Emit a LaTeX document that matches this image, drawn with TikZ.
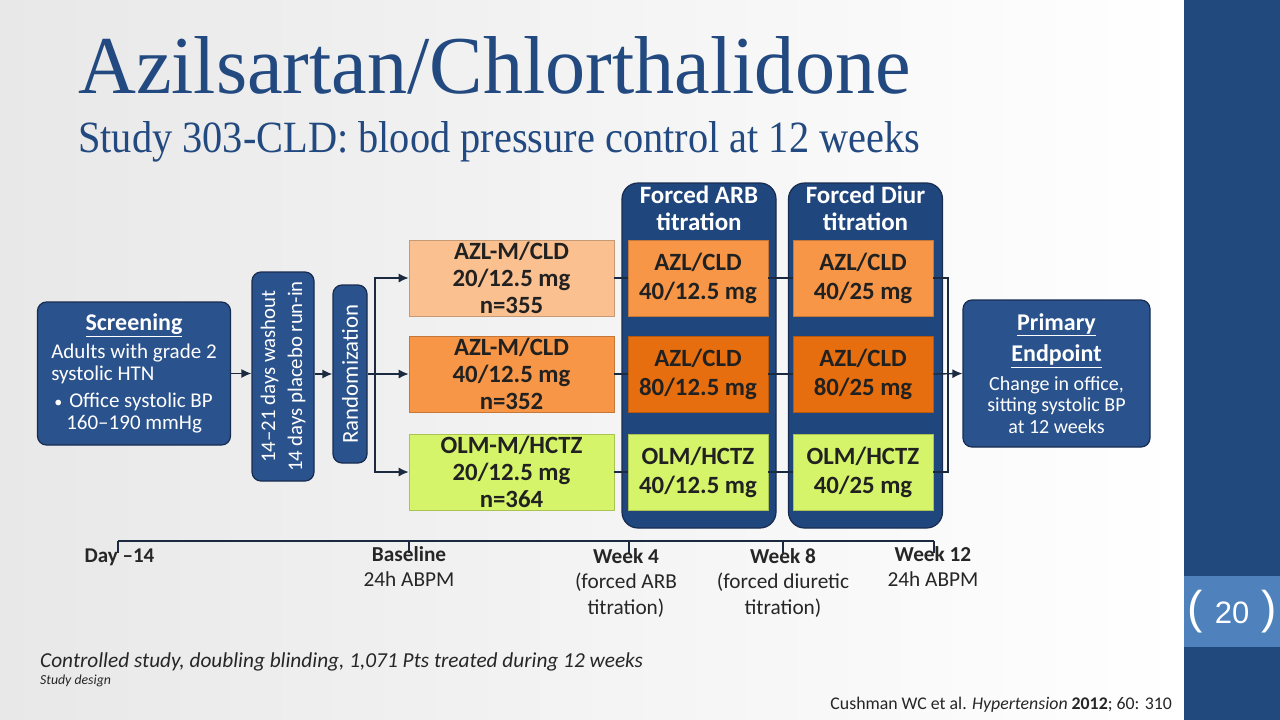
\documentclass[tikz,border=0pt]{standalone}
\usepackage{graphicx}
\usepackage{fontspec}
\setmainfont{Carlito}
\newfontfamily\titlefont{Liberation Serif}
\newfontfamily\numfont{Liberation Sans}
\usepackage{tikz}
\usetikzlibrary{positioning,shapes,arrows.meta}

\definecolor{titleblue}{RGB}{35,74,128}
\definecolor{boxblue}{RGB}{42,82,140}
\definecolor{panelblue}{RGB}{31,70,125}
\definecolor{edgeblue}{RGB}{24,44,80}
\definecolor{linenavy}{RGB}{27,42,65}
\definecolor{barblue}{RGB}{33,73,125}
\definecolor{pageblue}{RGB}{79,129,189}
\definecolor{lightorange}{RGB}{250,192,144}
\definecolor{midorange}{RGB}{247,150,70}
\definecolor{darkorange}{RGB}{230,110,14}
\definecolor{lightgreen}{RGB}{214,244,106}
\definecolor{armtext}{RGB}{33,33,33}

\begin{document}
\begin{tikzpicture}
            [x=1pt,y=-1pt,>={Latex[length=10pt,width=9pt]},
             bluebox/.style={draw=edgeblue, line width=1.2pt, fill=boxblue, rounded corners=9pt, text=white, inner sep=0pt},
             panel/.style={draw=edgeblue, line width=1.2pt, fill=panelblue, rounded corners=16pt, minimum width=154pt, minimum height=345pt, inner sep=0pt},
             armbox/.style={draw=#1!80!black, fill=#1, line width=0.6pt, minimum height=76pt, inner sep=0pt, align=center, text=armtext, font=\bfseries\fontsize{24.8}{27}\selectfont},
             dosebox/.style={armbox=#1, minimum width=140pt, font=\bfseries\fontsize{24.8}{29}\selectfont},
             link/.style={draw=linenavy, line width=1.4pt},
             tlabel/.style={anchor=north, inner sep=0pt, align=center, text=black!85, font=\fontsize{21.3}{25.5}\selectfont}]
            \useasboundingbox (0,0) rectangle (1280,720);
            % slide background and side bar
            \shade[left color=black!9, right color=white] (0,0) rectangle (1184,720);
            \fill[barblue] (1184,0) rectangle (1280,720);
            \fill[pageblue] (1184,576) rectangle (1280,647);
            \node[text=white, inner sep=0pt] (pg) at (1232,612) {\numfont\fontsize{46}{46}\selectfont(\hspace{12pt}\fontsize{31}{31}\selectfont 20\hspace{12pt}\fontsize{46}{46}\selectfont)};

            % title
            \node[anchor=base west, inner sep=0pt, text=titleblue] (title) at (78,93) {\resizebox{832pt}{57pt}{\titlefont Azilsartan/Chlorthalidone}};
            \node[anchor=base west, inner sep=0pt, text=titleblue] (subtitle) at (78,152) {\resizebox{842pt}{31pt}{\titlefont Study 303-CLD: blood pressure control at 12 weeks}};

            % left part of the flow
            \node[bluebox, minimum width=193pt, minimum height=143pt, align=center, font=\fontsize{21}{22}\selectfont] (scr) at (134,373.5)
                {\textbf{\fontsize{24}{27}\selectfont\underline{Screening}}\\[5pt]
                 \begin{tabular}{@{}l@{}}Adults with grade 2\\systolic HTN\\[5pt]
                 \hspace{3pt}{\fontsize{16}{16}\selectfont\textbullet}\hspace{7pt}Office systolic BP\\
                 \hspace{15pt}160--190 mmHg\end{tabular}\\[-4pt]};
            \node[bluebox, rotate=90, minimum width=209pt, minimum height=62pt, align=center, font=\fontsize{20.8}{27}\selectfont] (wash) at (283,376.5) {14--21 days washout\\14 days placebo run-in};
            \node[bluebox, rotate=90, minimum width=178pt, minimum height=34pt, font=\fontsize{22.8}{24}\selectfont] (rand) at (350,374) {Randomization};

            % titration panels
            \node[panel] (arb) at (699,355.5) {};
            \node[panel] (diur) at (865.5,355.5) {};
            \node[text=white, inner sep=0pt, align=center, font=\bfseries\fontsize{25}{27}\selectfont] (arbt) at (699,208) {Forced ARB\\titration};
            \node[text=white, inner sep=0pt, align=center, font=\bfseries\fontsize{25}{27}\selectfont] (diurt) at (865.5,208) {Forced Diur\\titration};

            % treatment arms
            \node[armbox=lightorange, minimum width=205pt] (a1) at (511.5,278) {AZL-M/CLD\\20/12.5 mg\\n=355};
            \node[armbox=midorange, minimum width=205pt] (a2) at (511.5,374) {AZL-M/CLD\\40/12.5 mg\\n=352};
            \node[armbox=lightgreen, minimum width=205pt] (a3) at (511.5,472) {OLM-M/HCTZ\\20/12.5 mg\\n=364};
            \node[dosebox=midorange] (b1) at (698,278) {AZL/CLD\\40/12.5 mg};
            \node[dosebox=darkorange] (b2) at (698,374) {AZL/CLD\\80/12.5 mg};
            \node[dosebox=lightgreen] (b3) at (698,472) {OLM/HCTZ\\40/12.5 mg};
            \node[dosebox=midorange] (c1) at (863,278) {AZL/CLD\\40/25 mg};
            \node[dosebox=darkorange] (c2) at (863,374) {AZL/CLD\\80/25 mg};
            \node[dosebox=lightgreen] (c3) at (863,472) {OLM/HCTZ\\40/25 mg};

            % endpoint
            \node[bluebox, minimum width=187pt, minimum height=147pt, align=center, font=\fontsize{20}{21.5}\selectfont] (ep) at (1056.5,373.5)
                {\textbf{\fontsize{24}{30}\selectfont\underline{Primary}}\\[8pt]
                 \textbf{\fontsize{24}{30}\selectfont\underline{Endpoint}}\\[7pt]
                 Change in office,\\sitting systolic BP\\at 12 weeks};

            % connectors
            \coordinate (split) at (375,374);
            \coordinate (merge) at (948,374);
            \draw[link,->] (scr.east) -- (scr.east -| wash.north);
            \draw[link,->] (wash.south |- rand.center) -- (rand.north);
            \draw[link] (rand.south) -- (split);
            \foreach \arm in {a1,a2,a3}
            \draw[link,->] (split) |- (\arm.west);
            \foreach \from/\to in {a1/b1, a2/b2, a3/b3, b1/c1, b2/c2, b3/c3}
            \draw[link] (\from.east) -- (\to.west);
            \draw[link] (c1.east) -| (merge);
            \draw[link] (c3.east) -| (merge);
            \draw[link,->] (c2.east) -- (ep.west);

            % time line
            \coordinate (t0) at (118,541);
            \coordinate (t1) at (409,541);
            \coordinate (t2) at (629,541);
            \coordinate (t3) at (783,541);
            \coordinate (t4) at (934,541);
            \draw[link] (t0) -- (t4);
            \foreach \t in {t0,t1,t2,t3,t4}
            \draw[link] (\t) -- ++(0,12);
            \node[tlabel, font=\bfseries\fontsize{21}{25.5}\selectfont] (l0) at (119.5,549) {Day --14};
            \node[tlabel] (l1) at (409,546) {\textbf{Baseline}\\24h ABPM};
            \node[tlabel] (l2) at (626,548) {\textbf{Week 4}\\(forced ARB\\titration)};
            \node[tlabel] (l3) at (783,548) {\textbf{Week 8}\\(forced diuretic\\titration)};
            \node[tlabel] (l4) at (933,546) {\textbf{Week 12}\\24h ABPM};

            % footnotes
            \node[anchor=base west, inner sep=0pt, text=black!85, font=\itshape\fontsize{21.3}{23}\selectfont] (note) at (40,667) {Controlled study, doubling blinding, 1,071 Pts treated during 12 weeks};
            \node[anchor=base west, inner sep=0pt, text=black!85, font=\itshape\fontsize{13.8}{15}\selectfont] (design) at (40,684) {Study design};
            \node[anchor=base east, inner sep=0pt, text=black!85, font=\fontsize{17.8}{20}\selectfont] (cite) at (1172,709) {Cushman WC et al. \textit{Hypertension} \textbf{2012}; 60: 310};
          \end{tikzpicture}
\end{document}
